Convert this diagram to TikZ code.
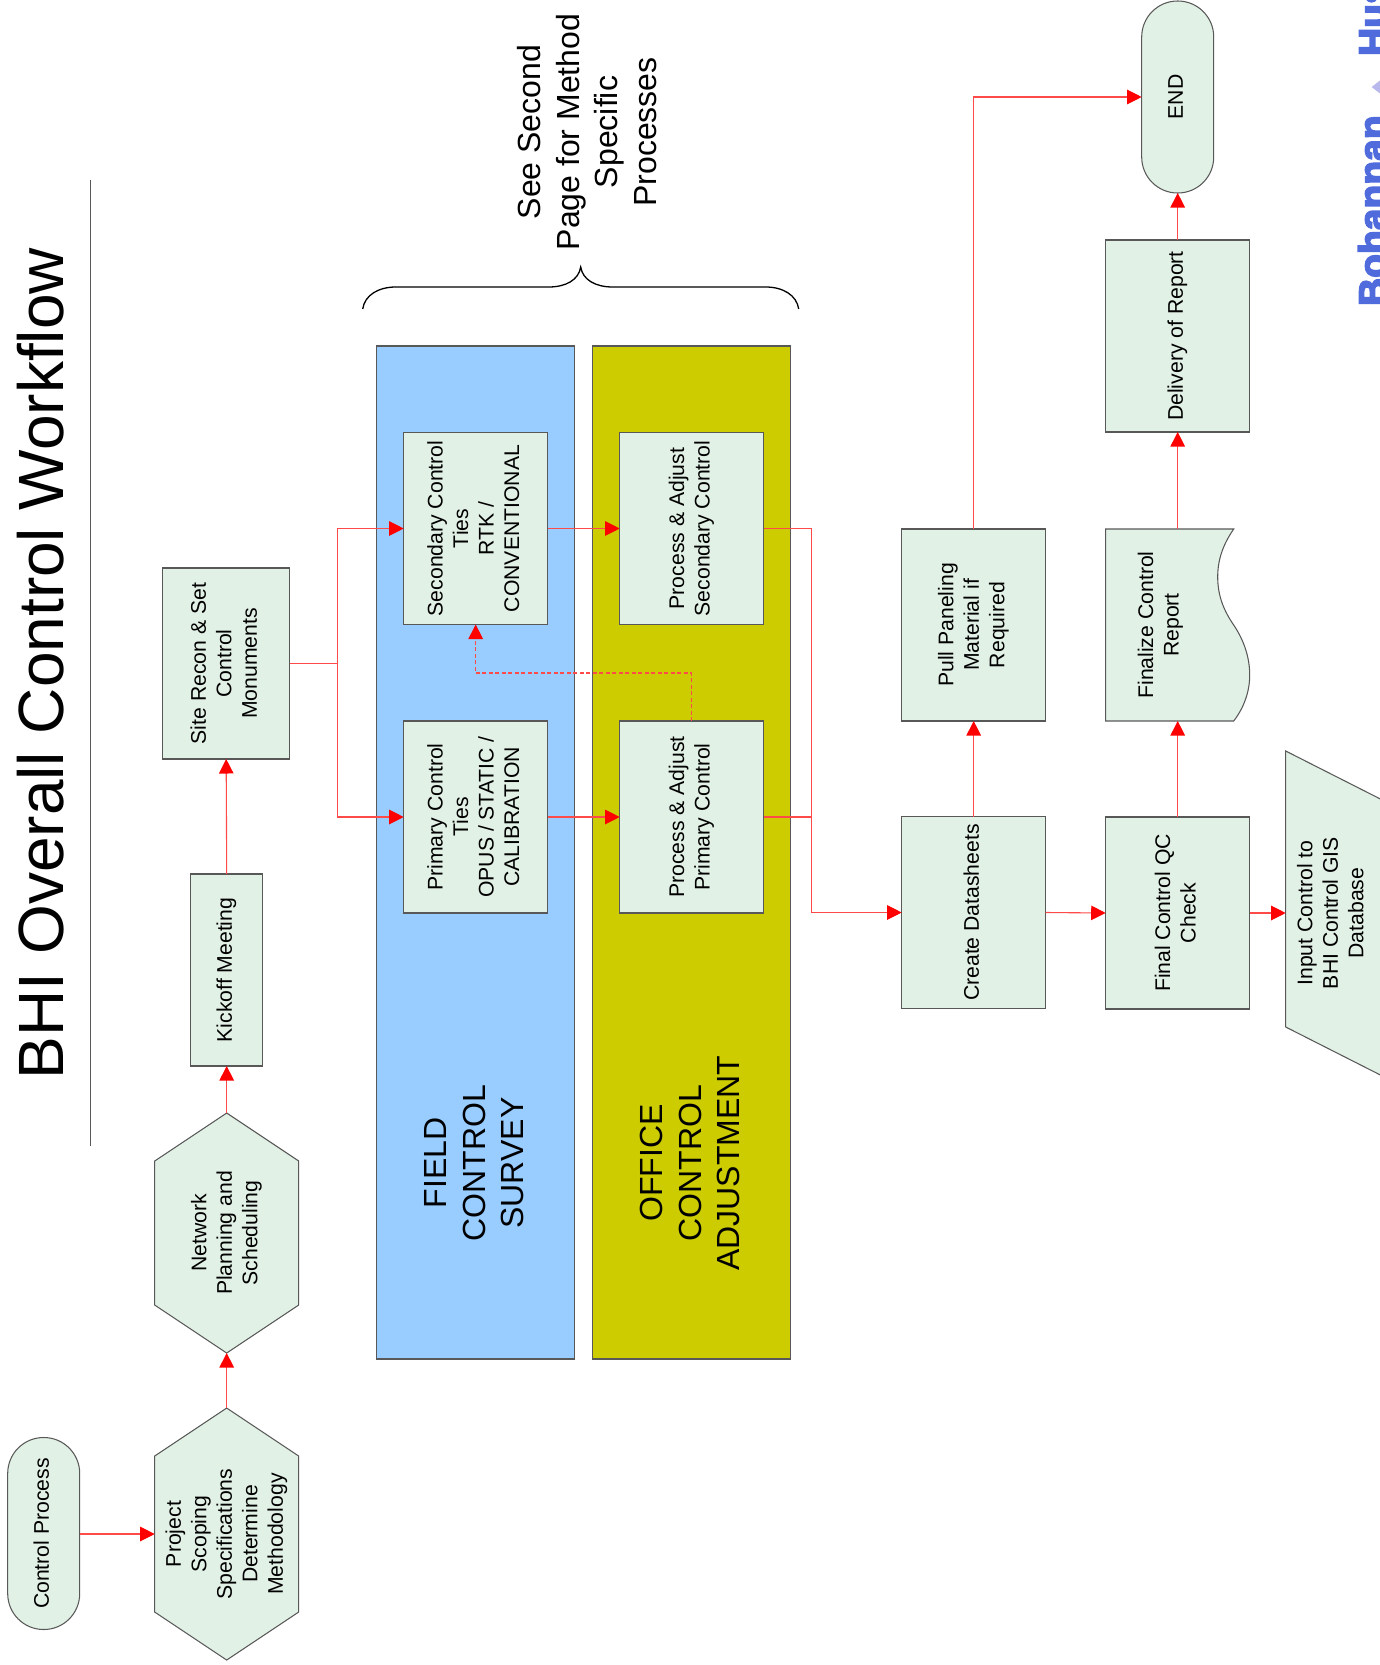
\documentclass[tikz,border=0pt]{standalone}
\usepackage{fontspec}
\usepackage{graphicx}
\setmainfont{Liberation Sans}
\newfontfamily\logofont[BoldFeatures={FakeBold=4}]{Liberation Sans}
\usetikzlibrary{arrows.meta}
\newcommand{\vtext}[1]{\rotatebox{90}{\begin{tabular}{@{}c@{}}#1\end{tabular}}}
\definecolor{boxfill}{HTML}{E2F1E6}
\definecolor{boxline}{HTML}{585858}
\definecolor{flow}{HTML}{FF4A4A}
\definecolor{logoblue}{HTML}{4F6BDC}
\tikzset{
  x=1pt,y=-1pt,
  shapefill/.style={fill=boxfill,draw=boxline,line width=1.05pt,line join=miter},
  box/.style={shapefill,rectangle,inner sep=0pt,outer sep=0pt,align=center,font=\fontsize{21.2}{25.5}\selectfont},
  ghost/.style={rectangle,inner sep=0pt,outer sep=0pt,font=\fontsize{21.2}{25.5}\selectfont},
  stepbox/.style={box,minimum width=144pt,minimum height=192pt},
  term/.style={box,rounded corners=35.9pt,minimum width=72pt,minimum height=192pt},
  lane/.style={rectangle,draw=boxline,line width=1.05pt,minimum width=198pt,minimum height=1013pt,inner sep=0pt,outer sep=0pt},
  lanetext/.style={ghost,font=\fontsize{32}{38.5}\selectfont},
  flowline/.style={draw=flow,line width=1.1pt,-{Triangle[length=14.5pt,width=14.5pt,color=red]}},
  flowplain/.style={draw=flow,line width=1.1pt},
  logotext/.style={inner sep=0pt,outer sep=0pt,text=logoblue,font=\logofont\bfseries\fontsize{39}{39}\selectfont}
}
\begin{document}
\begin{tikzpicture}
\path[use as bounding box,fill=white] (-0.7,0) rectangle (1379.3,1665);

% title
\node[ghost,font=\fontsize{64}{70}\selectfont] (title) at (40,663.5) {\rotatebox{90}{BHI Overall Control Workflow}};
\coordinate (ruleA) at (90,180);
\coordinate (ruleB) at (90,1146);
\draw[boxline,line width=1pt] (ruleA) -- (ruleB);

% logo, cut by the page edge
\node[logotext,anchor=south west,rotate=90] (logoa) at (1386,306) {Bohannan};
\node[logotext,anchor=south west,rotate=90] (logob) at (1386,56) {Huston};
\fill[blue!60!gray!35] (1371,87) -- (1385,76) -- (1385,98) -- cycle;

% lanes
\node[lane,fill={rgb,255:red,153;green,204;blue,255}] (field) at (475,852.5) {};
\node[lane,fill={rgb,255:red,204;green,204;blue,0}] (office) at (691,852.5) {};
\node[lanetext] (fieldt) at (477,1163) {\vtext{FIELD\\CONTROL\\SURVEY}};
\node[lanetext] (officet) at (693,1163) {\vtext{OFFICE\\CONTROL\\ADJUSTMENT}};

% hexagons and other outlines
\path[shapefill] (154,1456) -- (226,1408) -- (298,1456) -- (298,1612) -- (226,1660) -- (154,1612) -- cycle;
\path[shapefill] (154,1161) -- (226,1113) -- (298,1161) -- (298,1305) -- (226,1353) -- (154,1305) -- cycle;
\path[shapefill] (1105,529) -- (1233,529) .. controls (1222,545) and (1217,560) .. (1217,577)
  .. controls (1217,597) and (1224,612) .. (1233,625)
  .. controls (1243,640) and (1249,657) .. (1249,675)
  .. controls (1249,692) and (1243,708) .. (1233,721) -- (1105,721) -- cycle;
\path[shapefill] (1285,751) -- (1429,824) -- (1429,1100) -- (1285,1027) -- cycle;

% nodes
\node[term] (start) at (43,1533.5) {\vtext{Control Process}};
\node[ghost,minimum width=144pt,minimum height=252pt] (scope) at (226,1534) {\vtext{Project\\Scoping\\Specifications\\Determine\\Methodology}};
\node[ghost,minimum width=144pt,minimum height=240pt] (net) at (226,1233) {\vtext{Network\\Planning and\\Scheduling}};
\node[box,minimum width=72pt,minimum height=192pt] (kick) at (226,970) {\vtext{Kickoff Meeting}};
\node[box,minimum width=127pt,minimum height=191pt] (site) at (225.5,663.5) {\vtext{Site Recon \& Set\\Control\\Monuments}};
\node[stepbox] (sec) at (475,528.5) {\vtext{Secondary Control\\Ties\\RTK /\\CONVENTIONAL}};
\node[stepbox] (pri) at (475,817) {\vtext{Primary Control\\Ties\\OPUS / STATIC /\\CALIBRATION}};
\node[stepbox] (psec) at (691,528.5) {\vtext{Process \& Adjust\\Secondary Control}};
\node[stepbox] (ppri) at (691,817) {\vtext{Process \& Adjust\\Primary Control}};
\node[stepbox] (data) at (973,912.5) {\vtext{Create Datasheets}};
\node[stepbox] (pull) at (973,625) {\vtext{Pull Paneling\\Material if\\Required}};
\node[stepbox] (qc) at (1177,913) {\vtext{Final Control QC\\Check}};
\node[ghost,minimum width=144pt,minimum height=192pt] (fin) at (1177,625) {};
\node[ghost] (fint) at (1160,625) {\vtext{Finalize Control\\Report}};
\node[stepbox] (deliv) at (1177,336) {\vtext{Delivery of Report}};
\node[term] (endn) at (1177,97) {\vtext{END}};
\node[ghost,minimum width=94pt,minimum height=276pt] (gis) at (1332,913) {\vtext{Input Control to\\BHI Control GIS\\Database}};

% brace and note
\draw[black,line width=1.3pt] (362,309) .. controls (364,295) and (378,287) .. (395,287) -- (548,287)
  .. controls (565,287) and (578,280) .. (580,267) .. controls (582,280) and (595,287) .. (612,287)
  -- (765,287) .. controls (782,287) and (796,295) .. (798,309);
\node[ghost,font=\fontsize{32}{38.5}\selectfont] (note) at (590,132) {\vtext{See Second\\Page for Method\\Specific\\Processes}};

% connectors
\coordinate (junc) at (337,663.5);
\coordinate (bus) at (811,912.5);
\coordinate (dbend) at (691,673);
\draw[flowline] (start.east |- scope) -- (scope.west);
\draw[flowline] (scope.north) -- (net.south);
\draw[flowline] (net.north) -- (kick.south);
\draw[flowline] (kick.north) -- (site.south);
\draw[flowplain] (site.east) -- (junc);
\draw[flowline] (junc) |- (sec.west);
\draw[flowline] (junc) |- (pri.west);
\draw[flowline] (sec.east) -- (psec.west);
\draw[flowline] (pri.east) -- (ppri.west);
\draw[flowplain] (psec.east) -| (bus);
\draw[flowplain] (ppri.east) -| (bus);
\draw[flowline] (bus) -- (data.west);
\draw[flowline,dash pattern=on 4pt off 2.5pt] (ppri.north) -- (dbend) -| (sec.south);
\draw[flowline] (data.north) -- (pull.south);
\draw[flowline] (pull.north) |- (endn.west);
\draw[flowline] (data.east) -- (qc.west);
\draw[flowline] (qc.north) -- (fin.south);
\draw[flowline] (fin.north) -- (deliv.south);
\draw[flowline] (deliv.north) -- (endn.south);
\draw[flowline] (qc.east) -- (gis.west);
\end{tikzpicture}
\end{document}
